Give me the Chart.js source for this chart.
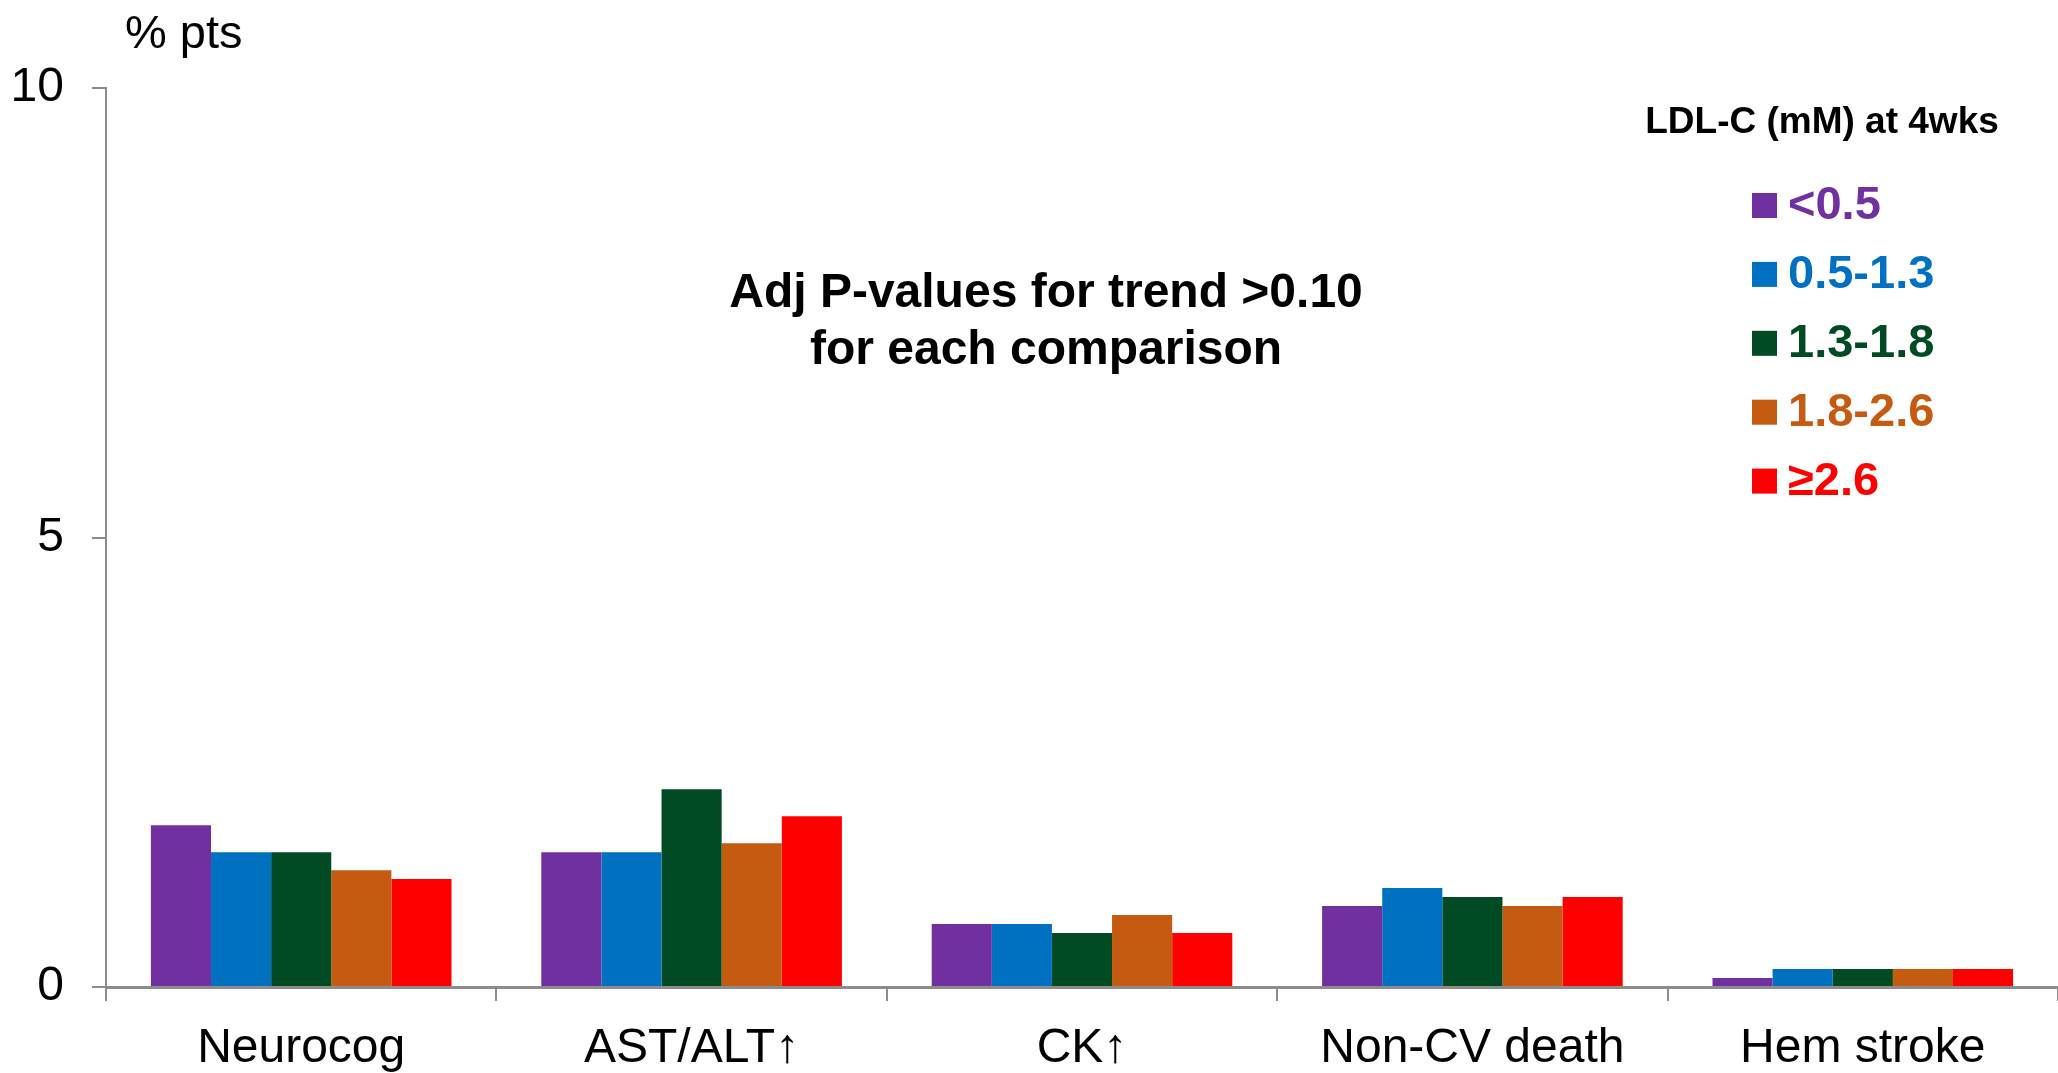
<!DOCTYPE html>
<html>
<head>
<meta charset="utf-8">
<script src="https://cdn.jsdelivr.net/npm/chart.js@4/dist/chart.umd.min.js"></script>
<style>
  html, body { margin: 0; padding: 0; background: #fff; }
  #wrap { width: 2058px; height: 1073px; position: relative; }
</style>
</head>
<body>
<div id="wrap"><canvas id="c" width="2058" height="1073"></canvas></div>
<script>
// Adverse events by achieved LDL-C at 4 weeks (% of patients)
const categories = ['Neurocog', 'AST/ALT\u2191', 'CK\u2191', 'Non-CV death', 'Hem stroke'];
const groupLabels = ['<0.5', '0.5-1.3', '1.3-1.8', '1.8-2.6', '\u22652.6'];
const ldlBelow05   = [1.8, 1.5, 0.7, 0.9, 0.1];
const ldl05to13    = [1.5, 1.5, 0.7, 1.1, 0.2];
const ldl13to18    = [1.5, 2.2, 0.6, 1.0, 0.2];
const ldl18to26    = [1.3, 1.6, 0.8, 0.9, 0.2];
const ldlAbove26   = [1.2, 1.9, 0.6, 1.0, 0.2];
const yTicks = [0, 5, 10];
const yAxisUnit = '% pts';
const legendTitle = 'LDL-C (mM) at 4wks';
const noteLines = ['Adj P-values for trend >0.10', 'for each comparison'];

const groupColors = ['#7030A0', '#0070C0', '#004B23', '#C55A11', '#FF0000'];
const seriesValues = [ldlBelow05, ldl05to13, ldl13to18, ldl18to26, ldlAbove26];
const FONT = '"Liberation Sans", Arial, Helvetica, sans-serif';
const AXIS_GRAY = '#8C8C8C';

// Free text: axis unit, the trend note and the legend block
const annotations = {
  id: 'annotations',
  afterDraw(chart) {
    const ctx = chart.ctx;
    ctx.save();
    ctx.fillStyle = '#000';
    ctx.textBaseline = 'alphabetic';
    ctx.textAlign = 'left';
    ctx.font = '47px ' + FONT;
    ctx.fillText(yAxisUnit, 125, 48);

    ctx.textAlign = 'center';
    ctx.textBaseline = 'middle';
    ctx.font = 'bold 48px ' + FONT;
    noteLines.forEach((t, i) => ctx.fillText(t, 1046, 294 + i * 57));

    ctx.font = 'bold 37px ' + FONT;
    ctx.fillText(legendTitle, 1822, 123);

    ctx.textAlign = 'left';
    ctx.font = 'bold 47px ' + FONT;
    chart.data.datasets.forEach((ds, i) => {
      const cy = 205 + i * 68.9;
      ctx.fillStyle = ds.backgroundColor;
      ctx.fillRect(1752, cy - 12, 25, 25);
      ctx.fillText(ds.label, 1788, cy + 1);
    });
    ctx.restore();
  }
};

new Chart(document.getElementById('c'), {
  type: 'bar',
  data: {
    labels: categories,
    datasets: seriesValues.map((vals, i) => ({
      label: groupLabels[i],
      data: vals,
      backgroundColor: groupColors[i],
      borderWidth: 0,
      categoryPercentage: 0.77,
      barPercentage: 1.0
    }))
  },
  options: {
    responsive: false,
    animation: false,
    devicePixelRatio: 1,
    layout: { padding: { top: 88, right: 0, left: 0, bottom: 0 } },
    plugins: {
      legend: { display: false },
      tooltip: { enabled: false },
      title: { display: false }
    },
    scales: {
      x: {
        grid: {
          offset: true,
          drawOnChartArea: false,
          drawTicks: true,
          tickLength: 14,
          color: AXIS_GRAY,
          lineWidth: 2
        },
        border: { display: true, color: AXIS_GRAY, width: 3 },
        ticks: {
          color: '#000',
          font: { family: FONT, size: 48 },
          padding: 19,
          maxRotation: 0,
          autoSkip: false
        },
        afterFit(scale) { scale.height = 1073 - 987; }
      },
      y: {
        min: 0,
        max: 10,
        afterBuildTicks(scale) { scale.ticks = yTicks.map(v => ({ value: v })); },
        grid: {
          drawOnChartArea: false,
          drawTicks: true,
          tickLength: 14,
          color: AXIS_GRAY,
          lineWidth: 2
        },
        border: { display: true, color: AXIS_GRAY, width: 2 },
        ticks: {
          color: '#000',
          font: { family: FONT, size: 48 },
          padding: 28
        },
        afterFit(scale) { scale.width = 106; }
      }
    }
  },
  plugins: [annotations]
});
</script>
</body>
</html>
